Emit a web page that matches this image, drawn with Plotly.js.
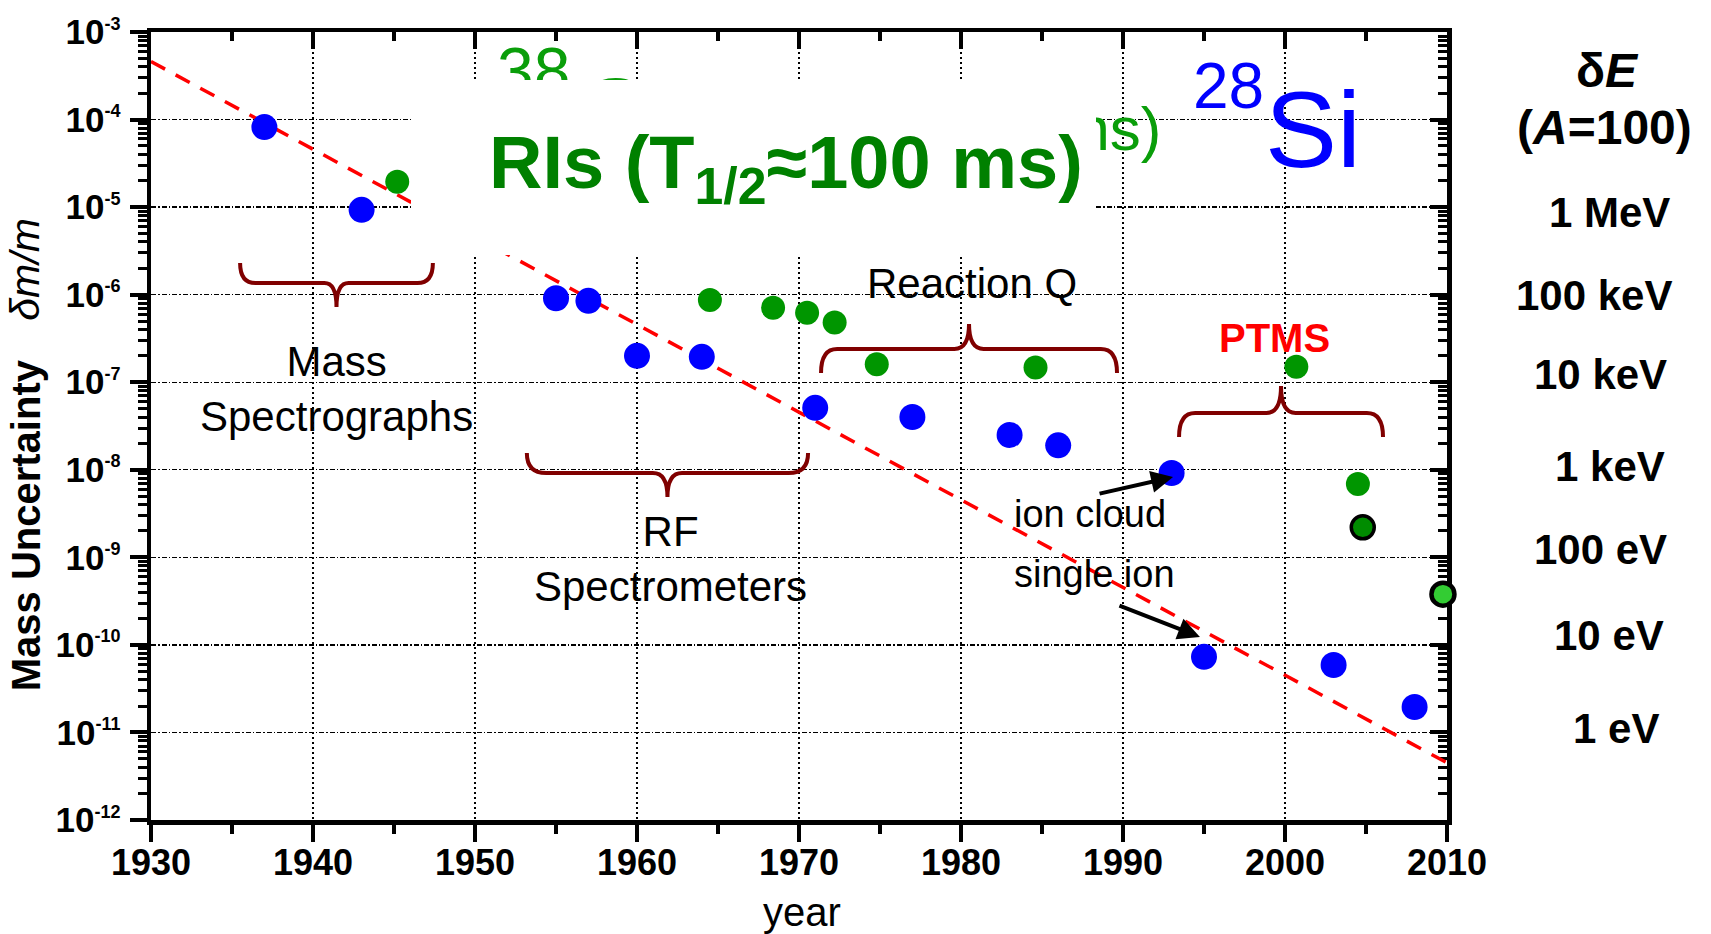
<!DOCTYPE html>
<html>
<head>
<meta charset="utf-8">
<script src="https://cdn.plot.ly/plotly-3.0.1.min.js"></script>
<style>
  html, body { margin: 0; padding: 0; background: #fff; }
  #chart { width: 1711px; height: 934px; }
</style>
</head>
<body>
<div id="chart"></div>
<script>
// Relative mass uncertainty achieved by different techniques, 1930-2010

// stable nuclides (blue)
const blueYears = [1937, 1943, 1955, 1957, 1960, 1964, 1971, 1977, 1983, 1986, 1993, 1995, 2003, 2008];
const blueVals  = [8.2e-5, 9.3e-6, 9.1e-7, 8.5e-7, 2.0e-7, 1.95e-7, 5.1e-8, 4.0e-8, 2.5e-8, 1.9e-8, 9.2e-9, 7.3e-11, 5.9e-11, 1.95e-11];

// radioactive nuclides (green)
const greenYears = [1945.2, 1964.5, 1968.4, 1970.5, 1972.2, 1974.8, 1984.6, 2000.7, 2004.5];
const greenVals  = [1.95e-5, 8.7e-7, 7.1e-7, 6.2e-7, 4.8e-7, 1.6e-7, 1.47e-7, 1.5e-7, 6.9e-9];

// short-lived nuclides, outlined
const ringYears = [2004.8];
const ringVals  = [2.2e-9];
const limeYears = [2009.75];
const limeVals  = [3.8e-10];

// overall trend
const trendYears = [1930, 2010];
const trendVals  = [4.6e-4, 4.5e-12];

// axis ticks
const yTickVals = [1e-12, 1e-11, 1e-10, 1e-9, 1e-8, 1e-7, 1e-6, 1e-5, 1e-4, 1e-3];
const yTickExp  = ['-12', '-11', '-10', '-9', '-8', '-7', '-6', '-5', '-4', '-3'];
const yTickText = yTickExp.map(e => '10<sup><span style="font-size:18px">' + e + '</span></sup>');

// energy equivalents for A = 100
const energyText = ['1 MeV', '100 keV', '10 keV', '1 keV', '100 eV', '10 eV', '1 eV'];

const F = 'Liberation Sans, Arial, sans-serif';

const minorVals = [];
for (let k = -12; k < -3; k++) {
  for (let m = 2; m <= 9; m++) minorVals.push(m * Math.pow(10, k));
}

// curly brace built in data space (x: year, y: log10 exponents)
function brace(x0, x1, eEnd, eMid, eTip, rx, rt) {
  const p = e => Math.pow(10, e).toExponential(6);
  const xm = (x0 + x1) / 2;
  return 'M' + x0 + ',' + p(eEnd) +
    ' Q' + x0 + ',' + p(eMid) + ' ' + (x0 + rx) + ',' + p(eMid) +
    ' L' + (xm - rt) + ',' + p(eMid) +
    ' Q' + xm + ',' + p(eMid) + ' ' + xm + ',' + p(eTip) +
    ' Q' + xm + ',' + p(eMid) + ' ' + (xm + rt) + ',' + p(eMid) +
    ' L' + (x1 - rx) + ',' + p(eMid) +
    ' Q' + x1 + ',' + p(eMid) + ' ' + x1 + ',' + p(eEnd);
}
const braceLine = { color: '#800000', width: 4 };
const shapes = [
  [1935.5, 1947.4, -5.638, -5.867, -6.141, 0.95, 0.75],
  [1953.2, 1970.56, -7.808, -8.037, -8.311, 1.2, 0.9],
  [1971.36, 1989.63, -6.894, -6.620, -6.335, 1.0, 0.9],
  [1993.46, 2006.05, -7.625, -7.351, -7.043, 1.0, 0.9]
].map(b => ({
  type: 'path', xref: 'x', yref: 'y', layer: 'above',
  path: brace.apply(null, b), line: braceLine
}));

const traces = [
  { x: trendYears, y: trendVals, mode: 'lines', type: 'scatter',
    line: { color: '#ff0000', width: 3.5, dash: '16px,12px' } },
  { x: blueYears, y: blueVals, mode: 'markers', type: 'scatter',
    marker: { color: '#0000ff', size: 26 } },
  { x: greenYears, y: greenVals, mode: 'markers', type: 'scatter',
    marker: { color: '#009600', size: 24 } },
  { x: ringYears, y: ringVals, mode: 'markers', type: 'scatter',
    marker: { color: '#008c00', size: 23, line: { color: '#000', width: 3.5 } } },
  { x: limeYears, y: limeVals, mode: 'markers', type: 'scatter', cliponaxis: false,
    marker: { color: '#33cc33', size: 23, line: { color: '#000', width: 4.5 } } },
  // carries the top and right frame axes
  { x: [], y: [], type: 'scatter', mode: 'markers', xaxis: 'x2', yaxis: 'y2' }
];

function txt(text, x, y, size, extra) {
  return Object.assign({
    text: text, x: x, y: y, xref: 'x', yref: 'y', showarrow: false,
    xanchor: 'center', yanchor: 'middle',
    font: { family: F, size: size, color: '#000' }
  }, extra || {});
}
const lightGreen = '#0a9e0a';

const annotations = [
  // label partly covered by the panel below
  txt('38', 1953.64, -3.44, 66, { font: { family: F, size: 66, color: lightGreen } }),
  txt('Ca', 1960.25, -3.925, 100, { font: { family: F, size: 100, color: lightGreen } }),
  txt('(T<sub>1/2</sub> = 440 ms)', 1992.47, -4.153, 62,
      { xanchor: 'right', font: { family: F, size: 62, color: lightGreen } }),
  // white panel
  { text: ' ', x: 1946.05, y: -3.548, xref: 'x', yref: 'y', xanchor: 'left', yanchor: 'top',
    width: 685, height: 175, bgcolor: '#ffffff', borderpad: 0, borderwidth: 0, showarrow: false },
  txt('<b>RIs (T<sub>1/2</sub>≈100 ms)</b>', 1969.17, -4.55, 74,
      { font: { family: F, size: 74, color: '#008000' } }),
  txt('28', 1996.54, -3.622, 64, { font: { family: F, size: 64, color: '#0000ff' } }),
  txt('Si', 2001.73, -4.114, 108, { font: { family: F, size: 108, color: '#0000ff' } }),

  txt('Mass<br>Spectrographs', 1941.42, -7.077, 42),
  txt('RF<br>Spectrometers', 1962.04, -9.024, 42),
  txt('Reaction Q', 1980.68, -5.878, 42),
  txt('<b>PTMS</b>', 1999.38, -6.495, 40, { font: { family: F, size: 40, color: '#ff0000' } }),
  txt('ion cloud', 1987.96, -8.505, 38),
  txt('single ion', 1988.21, -9.19, 38),
  { text: '', x: 1993.09, y: -8.082, xref: 'x', yref: 'y', showarrow: true,
    ax: -75, ay: 17, arrowcolor: '#000', arrowwidth: 4, arrowhead: 2, arrowsize: 1.1, standoff: 0 },
  { text: '', x: 1994.75, y: -9.91, xref: 'x', yref: 'y', showarrow: true,
    ax: -82, ay: -32, arrowcolor: '#000', arrowwidth: 4, arrowhead: 2, arrowsize: 1.1, standoff: 0 },

  // energy scale
  txt('<b>δ<i>E</i></b>', 1.1235, -3.434, 48, { xref: 'paper' }),
  txt('<b>(<i>A</i>=100)</b>', 1.1219, -4.085, 48, { xref: 'paper' }),

  // axis titles
  txt('<b>Mass Uncertainty</b>', -0.0962, -8.63, 40, { xref: 'paper', textangle: -90 }),
  txt('<i>δm/m</i>', -0.0968, -5.72, 41, { xref: 'paper', textangle: -90 }),
  txt('year', 1970.19, -0.1168, 40, { yref: 'paper' })
];

const energyX = [1.125, 1.1134, 1.1188, 1.1258, 1.1188, 1.125, 1.1304];
const energyY = [-5.056, -6.004, -6.917, -7.968, -8.905, -9.898, -10.96];
energyText.forEach((t, i) => {
  annotations.push(txt('<b>' + t + '</b>', energyX[i], energyY[i], 42, { xref: 'paper' }));
});

const axisCommon = {
  showline: true, linewidth: 4.5, linecolor: '#000',
  tickcolor: '#000', tickwidth: 4, zeroline: false
};

const layout = {
  width: 1711, height: 934,
  margin: { l: 151, r: 264, t: 32, b: 114, pad: 0 },
  paper_bgcolor: '#ffffff', plot_bgcolor: '#ffffff',
  showlegend: false, hovermode: false,
  font: { family: F, color: '#000' },
  xaxis: Object.assign({}, axisCommon, {
    range: [1930, 2010], tick0: 1930, dtick: 10,
    ticks: 'outside', ticklen: 17, ticklabelstandoff: -10,
    tickfont: { family: F, size: 36, weight: 'bold', color: '#000' },
    showgrid: true, gridcolor: '#000', gridwidth: 1.3, griddash: '2px,3px',
    minor: { tick0: 1930, dtick: 5, ticks: 'outside', ticklen: 9, tickwidth: 4, tickcolor: '#000', showgrid: false }
  }),
  xaxis2: Object.assign({}, axisCommon, {
    overlaying: 'x', side: 'top', range: [1930, 2010], tick0: 1930, dtick: 10,
    ticks: 'inside', ticklen: 17, showticklabels: false, showgrid: false,
    minor: { tick0: 1930, dtick: 5, ticks: 'inside', ticklen: 9, tickwidth: 4, tickcolor: '#000', showgrid: false }
  }),
  yaxis: Object.assign({}, axisCommon, {
    type: 'log', range: [-12, -3],
    tickmode: 'array', tickvals: yTickVals, ticktext: yTickText,
    ticks: 'outside', ticklen: 17, ticklabelstandoff: 2,
    tickfont: { family: F, size: 35, weight: 'bold', color: '#000' },
    showgrid: true, gridcolor: '#000', gridwidth: 1.3, griddash: '5px,2px,1.5px,2px',
    minor: { tickmode: 'array', tickvals: minorVals, ticks: 'outside', ticklen: 9, tickwidth: 3, tickcolor: '#000', showgrid: false }
  }),
  yaxis2: Object.assign({}, axisCommon, {
    type: 'log', overlaying: 'y', side: 'right', range: [-12, -3], layer: 'below traces',
    tickmode: 'array', tickvals: yTickVals, ticks: 'inside', ticklen: 17,
    showticklabels: false, showgrid: false,
    minor: { tickmode: 'array', tickvals: minorVals, ticks: 'inside', ticklen: 9, tickwidth: 3, tickcolor: '#000', showgrid: false }
  }),
  shapes: shapes,
  annotations: annotations
};

Plotly.newPlot('chart', traces, layout, { displayModeBar: false, staticPlot: true });
</script>
</body>
</html>
